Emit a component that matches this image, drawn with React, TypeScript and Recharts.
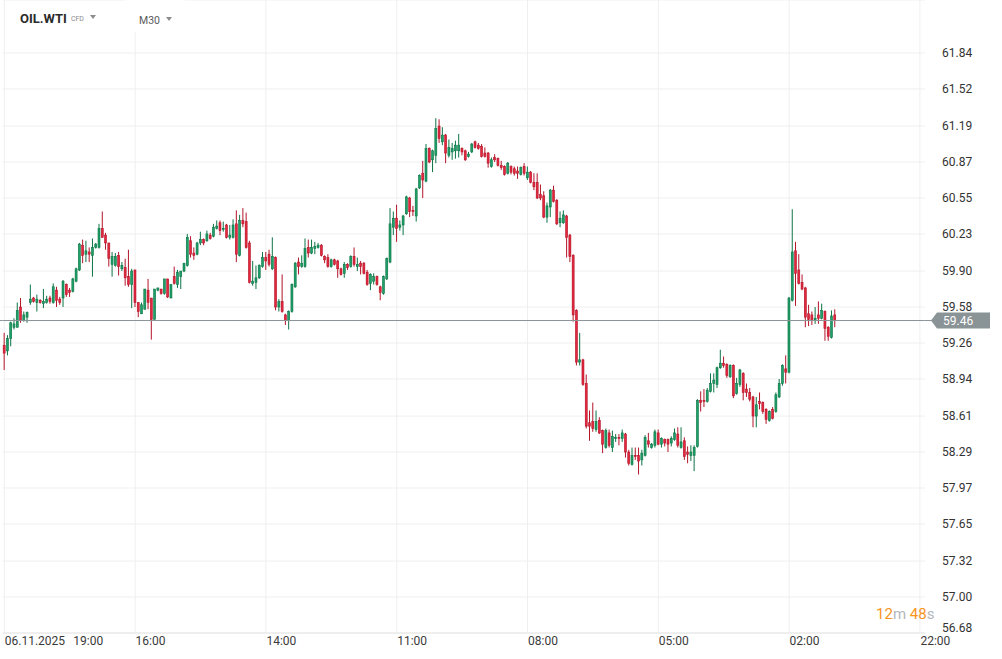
import { BarChart, Bar, XAxis, YAxis, CartesianGrid, ReferenceLine } from "recharts";

// M30 candles, oldest on the left
const opens = [
  59.24, 59.19, 59.30, 59.40, 59.40, 59.58, 59.46, 59.49, 59.62, 59.66,
  59.62, 59.64, 59.61, 59.62, 59.66, 59.62, 59.73, 59.65, 59.66, 59.78,
  59.73, 59.72, 59.81, 59.91, 60.13, 60.05, 60.07, 60.04, 60.11, 60.11,
  60.28, 60.22, 60.15, 59.96, 59.95, 60.04, 59.92, 59.93, 59.85, 59.78,
  59.91, 59.62, 59.52, 59.56, 59.73, 59.66, 59.47, 59.73, 59.74, 59.70,
  59.83, 59.66, 59.85, 59.78, 59.85, 59.90, 59.95, 60.17, 60.06, 60.05,
  60.15, 60.18, 60.17, 60.22, 60.21, 60.28, 60.33, 60.27, 60.31, 60.20,
  60.20, 60.32, 60.04, 60.35, 60.34, 60.15, 59.79, 59.80, 59.84, 59.94,
  60.02, 60.05, 59.92, 60.02, 59.58, 59.63, 59.51, 59.46, 59.54, 59.76,
  59.98, 59.94, 59.94, 60.11, 60.06, 60.10, 60.11, 60.13, 60.03, 60.02,
  59.94, 60.00, 59.99, 59.92, 59.88, 59.96, 59.94, 60.03, 59.94, 59.97,
  59.97, 59.89, 59.79, 59.81, 59.85, 59.76, 59.70, 59.83, 59.98, 60.29,
  60.37, 60.29, 60.31, 60.41, 60.55, 60.44, 60.39, 60.64, 60.77, 60.70,
  60.99, 60.89, 60.93, 61.19, 61.05, 61.11, 60.93, 60.96, 60.97, 60.97,
  60.99, 60.97, 60.92, 60.96, 61.05, 61.02, 61.01, 60.95, 60.95, 60.83,
  60.91, 60.90, 60.84, 60.83, 60.77, 60.83, 60.81, 60.79, 60.76, 60.83,
  60.73, 60.78, 60.69, 60.69, 60.58, 60.57, 60.38, 60.47, 60.62, 60.53,
  60.33, 60.33, 60.39, 60.22, 60.04, 59.55, 59.09, 59.11, 58.90, 58.55,
  58.56, 58.49, 58.57, 58.48, 58.33, 58.46, 58.33, 58.41, 58.42, 58.41,
  58.45, 58.29, 58.18, 58.26, 58.26, 58.22, 58.26, 58.39, 58.33, 58.35,
  58.46, 58.36, 58.40, 58.40, 58.37, 58.40, 58.45, 58.33, 58.39, 58.29,
  58.26, 58.26, 58.34, 58.75, 58.75, 58.74, 58.83, 58.90, 58.89, 59.04,
  59.08, 59.07, 58.96, 59.06, 58.81, 58.89, 58.99, 58.85, 58.82, 58.78,
  58.61, 58.74, 58.73, 58.67, 58.57, 58.67, 58.65, 58.78, 58.90, 59.03,
  59.00, 59.64, 60.08, 59.91, 59.80, 59.75, 59.52, 59.51, 59.46, 59.51,
  59.48, 59.54, 59.40, 59.31, 59.51,
];

const highs = [
  59.35, 59.33, 59.45, 59.48, 59.62, 59.66, 59.54, 59.54, 59.78, 59.67,
  59.69, 59.65, 59.74, 59.68, 59.68, 59.79, 59.76, 59.67, 59.82, 59.79,
  59.75, 59.84, 59.93, 60.15, 60.18, 60.17, 60.11, 60.19, 60.15, 60.32,
  60.43, 60.24, 60.15, 60.07, 60.06, 60.07, 59.98, 60.01, 60.09, 59.92,
  59.91, 59.62, 59.62, 59.74, 59.83, 59.66, 59.74, 59.75, 59.74, 59.83,
  59.83, 59.78, 59.94, 59.91, 59.90, 59.97, 60.23, 60.21, 60.11, 60.16,
  60.25, 60.19, 60.26, 60.24, 60.32, 60.35, 60.35, 60.34, 60.32, 60.31,
  60.36, 60.44, 60.40, 60.46, 60.42, 60.17, 59.99, 59.95, 59.96, 60.07,
  60.07, 60.09, 60.20, 60.03, 59.65, 59.87, 59.52, 59.55, 59.79, 59.98,
  60.02, 60.04, 60.19, 60.18, 60.18, 60.16, 60.15, 60.14, 60.04, 60.05,
  60.01, 60.01, 60.00, 59.93, 59.98, 59.97, 60.04, 60.11, 60.02, 59.99,
  59.98, 59.91, 59.88, 59.88, 59.86, 59.77, 59.86, 60.02, 60.46, 60.43,
  60.49, 60.35, 60.40, 60.57, 60.56, 60.48, 60.64, 60.76, 60.88, 61.03,
  61.00, 60.98, 61.26, 61.25, 61.18, 61.12, 61.07, 61.04, 61.06, 61.12,
  61.00, 60.98, 60.96, 61.04, 61.06, 61.04, 61.03, 61.00, 60.96, 60.91,
  60.94, 60.91, 60.88, 60.84, 60.87, 60.84, 60.83, 60.83, 60.83, 60.86,
  60.83, 60.79, 60.77, 60.77, 60.67, 60.61, 60.51, 60.63, 60.66, 60.54,
  60.43, 60.44, 60.40, 60.23, 60.05, 59.56, 59.35, 59.12, 58.98, 58.66,
  58.73, 58.66, 58.60, 58.49, 58.50, 58.49, 58.48, 58.45, 58.45, 58.49,
  58.46, 58.31, 58.33, 58.33, 58.33, 58.31, 58.44, 58.46, 58.37, 58.49,
  58.49, 58.42, 58.41, 58.41, 58.43, 58.50, 58.51, 58.51, 58.42, 58.34,
  58.35, 58.35, 58.76, 58.83, 58.85, 58.86, 58.99, 58.99, 59.05, 59.20,
  59.14, 59.08, 59.07, 59.07, 58.95, 59.03, 59.00, 58.90, 58.86, 58.79,
  58.78, 58.82, 58.74, 58.68, 58.66, 58.69, 58.82, 58.94, 59.07, 59.15,
  59.67, 60.45, 60.16, 60.05, 59.87, 59.76, 59.60, 59.54, 59.58, 59.63,
  59.61, 59.55, 59.41, 59.55, 59.56,
];

const lows = [
  59.02, 59.15, 59.23, 59.38, 59.40, 59.44, 59.45, 59.44, 59.60, 59.62,
  59.54, 59.61, 59.57, 59.61, 59.61, 59.61, 59.58, 59.60, 59.58, 59.67,
  59.67, 59.71, 59.80, 59.90, 59.97, 59.98, 59.98, 59.85, 60.10, 60.10,
  60.20, 60.09, 59.94, 59.85, 59.94, 59.86, 59.90, 59.77, 59.76, 59.57,
  59.58, 59.49, 59.52, 59.56, 59.56, 59.29, 59.47, 59.72, 59.69, 59.69,
  59.66, 59.66, 59.78, 59.75, 59.74, 59.89, 59.94, 60.02, 60.00, 60.04,
  60.13, 60.13, 60.16, 60.18, 60.20, 60.27, 60.22, 60.25, 60.19, 60.18,
  60.19, 59.98, 60.03, 60.29, 60.10, 59.79, 59.77, 59.74, 59.83, 59.93,
  59.91, 59.94, 59.91, 59.55, 59.54, 59.53, 59.42, 59.38, 59.53, 59.75,
  59.87, 59.93, 59.93, 60.02, 60.05, 60.05, 60.10, 60.03, 59.97, 59.93,
  59.93, 59.95, 59.84, 59.86, 59.84, 59.91, 59.93, 59.94, 59.90, 59.87,
  59.87, 59.77, 59.73, 59.78, 59.77, 59.64, 59.69, 59.82, 59.97, 60.22,
  60.16, 60.26, 60.22, 60.40, 60.38, 60.39, 60.34, 60.63, 60.55, 60.69,
  60.86, 60.78, 60.86, 61.04, 61.02, 60.86, 60.91, 60.89, 60.90, 60.91,
  60.93, 60.88, 60.91, 60.95, 60.99, 60.98, 60.91, 60.91, 60.82, 60.82,
  60.87, 60.83, 60.80, 60.75, 60.76, 60.76, 60.75, 60.72, 60.75, 60.75,
  60.71, 60.68, 60.62, 60.54, 60.53, 60.37, 60.33, 60.38, 60.51, 60.31,
  60.29, 60.32, 60.02, 59.98, 59.45, 59.06, 59.06, 58.88, 58.50, 58.39,
  58.47, 58.47, 58.45, 58.28, 58.32, 58.33, 58.29, 58.38, 58.35, 58.38,
  58.24, 58.17, 58.17, 58.22, 58.09, 58.17, 58.25, 58.33, 58.32, 58.33,
  58.35, 58.33, 58.34, 58.29, 58.34, 58.39, 58.33, 58.32, 58.22, 58.19,
  58.21, 58.12, 58.33, 58.65, 58.69, 58.73, 58.82, 58.82, 58.86, 59.03,
  59.04, 58.95, 58.95, 58.77, 58.80, 58.87, 58.75, 58.78, 58.74, 58.51,
  58.51, 58.67, 58.63, 58.54, 58.56, 58.58, 58.64, 58.77, 58.88, 58.90,
  58.99, 59.63, 59.59, 59.78, 59.73, 59.40, 59.41, 59.42, 59.43, 59.43,
  59.47, 59.28, 59.28, 59.30, 59.40,
];

const closes = [
  59.17, 59.30, 59.44, 59.43, 59.55, 59.46, 59.51, 59.53, 59.65, 59.63,
  59.65, 59.62, 59.63, 59.65, 59.63, 59.76, 59.64, 59.62, 59.81, 59.69,
  59.71, 59.83, 59.92, 60.14, 60.04, 60.08, 60.05, 60.11, 60.14, 60.28,
  60.20, 60.15, 60.01, 60.03, 60.03, 59.94, 59.95, 59.84, 59.78, 59.90,
  59.62, 59.54, 59.60, 59.74, 59.62, 59.47, 59.74, 59.75, 59.70, 59.83,
  59.67, 59.78, 59.79, 59.89, 59.90, 59.97, 60.20, 60.05, 60.04, 60.15,
  60.18, 60.15, 60.23, 60.19, 60.29, 60.30, 60.26, 60.28, 60.20, 60.22,
  60.31, 60.05, 60.35, 60.32, 60.11, 59.80, 59.81, 59.84, 59.95, 60.02,
  59.99, 59.96, 60.03, 59.58, 59.63, 59.54, 59.46, 59.54, 59.78, 59.97,
  59.94, 59.97, 60.10, 60.06, 60.11, 60.12, 60.13, 60.04, 60.00, 59.94,
  60.00, 59.96, 59.92, 59.87, 59.96, 59.93, 60.03, 59.96, 59.96, 59.94,
  59.88, 59.78, 59.87, 59.85, 59.78, 59.71, 59.85, 60.01, 60.32, 60.37,
  60.28, 60.31, 60.39, 60.56, 60.43, 60.43, 60.63, 60.75, 60.71, 60.99,
  60.87, 60.97, 61.17, 61.08, 61.11, 60.95, 61.00, 60.99, 61.02, 61.02,
  60.96, 60.89, 60.94, 61.03, 61.00, 60.99, 60.92, 60.92, 60.86, 60.89,
  60.89, 60.84, 60.82, 60.76, 60.86, 60.78, 60.77, 60.77, 60.82, 60.77,
  60.78, 60.69, 60.65, 60.55, 60.55, 60.38, 60.48, 60.62, 60.52, 60.32,
  60.37, 60.40, 60.20, 60.03, 59.51, 59.09, 59.11, 58.89, 58.52, 58.52,
  58.50, 58.56, 58.46, 58.36, 58.48, 58.35, 58.43, 58.42, 58.41, 58.46,
  58.29, 58.19, 58.26, 58.25, 58.21, 58.28, 58.42, 58.36, 58.36, 58.47,
  58.36, 58.41, 58.37, 58.36, 58.41, 58.46, 58.35, 58.38, 58.25, 58.27,
  58.29, 58.33, 58.75, 58.73, 58.74, 58.84, 58.90, 58.93, 59.04, 59.08,
  59.06, 58.97, 59.06, 58.79, 58.90, 59.02, 58.82, 58.82, 58.76, 58.61,
  58.71, 58.72, 58.65, 58.58, 58.65, 58.59, 58.80, 58.90, 59.06, 59.00,
  59.66, 60.07, 59.88, 59.79, 59.74, 59.49, 59.47, 59.46, 59.48, 59.48,
  59.55, 59.39, 59.32, 59.50, 59.46,
];

const priceTicks = [56.68, 57.0, 57.32, 57.65, 57.97, 58.29, 58.61, 58.94, 59.26, 59.58, 59.9, 60.23, 60.55, 60.87, 61.19, 61.52, 61.84];
const timeTickSlots = [0, 40, 80, 120, 160, 200, 240, 280];
const timeTickLabels = ["06.11.2025|19:00", "16:00", "14:00", "11:00", "08:00", "05:00", "02:00", "22:00"];
const lastPrice = 59.46;

const SLOTS = 282; // candle slots across the plot, the rest is empty space on the right
const SLOT_W = 3.27;
const PLOT_LEFT = 2.67;
const PLOT_RIGHT = PLOT_LEFT + SLOTS * SLOT_W;
const gridX = timeTickSlots.map((s) => PLOT_LEFT + (s + 0.5) * SLOT_W);

const UP_FILL = "#1fa068";
const UP_LINE = "#0d7446";
const DOWN_FILL = "#e3283e";
const DOWN_LINE = "#b3152a";

const data = Array.from({ length: SLOTS }, (_, i) => {
  if (i >= opens.length) return { i, range: null };
  const o = opens[i], h = highs[i], l = lows[i], c = closes[i];
  return { i, open: o, close: c, range: [Math.min(l, o, c), Math.max(h, o, c)] };
});

const Candle = (props: any) => {
  const { x, y, width, height, payload } = props;
  if (!payload || payload.open == null || !payload.range) return null;
  const [lo, hi] = payload.range;
  const top = Math.min(y, y + height);
  const h = Math.abs(height);
  const k = hi > lo ? h / (hi - lo) : 0;
  const cx = x + width / 2;
  const up = payload.close >= payload.open;
  const bTop = top + (hi - Math.max(payload.open, payload.close)) * k;
  const bBot = top + (hi - Math.min(payload.open, payload.close)) * k;
  return (
    <g>
      <line x1={cx} x2={cx} y1={top} y2={top + h} stroke={up ? UP_LINE : DOWN_LINE} strokeWidth={1} />
      <rect
        x={cx - 1.0}
        y={bTop}
        width={2.0}
        height={Math.max(bBot - bTop, 0.8)}
        fill={up ? UP_FILL : DOWN_FILL}
        stroke={up ? UP_LINE : DOWN_LINE}
        strokeWidth={0.6}
      />
    </g>
  );
};

const XTick = ({ x, payload }: any) => {
  const idx = timeTickSlots.indexOf(payload.value);
  const label = idx >= 0 ? timeTickLabels[idx] : "";
  const parts = label.split("|");
  return (
    <text y={645} fontFamily="Roboto" fontSize={12} fill="#3a3a3a" textAnchor="start">
      <tspan x={x + 0.5}>{parts[0]}</tspan>
      {parts[1] ? <tspan x={x + 69}>{parts[1]}</tspan> : null}
    </text>
  );
};

const YTick = ({ y, payload }: any) => {
  const yy = Math.min(y, 628);
  return (
    <text x={942} y={yy + 4.3} fontFamily="Roboto" fontSize={12} fill="#333" textAnchor="start">
      {Number(payload.value).toFixed(2)}
    </text>
  );
};

const PriceTag = ({ viewBox }: any) => {
  if (!viewBox) return null;
  const y = viewBox.y;
  return (
    <g>
      <line x1={0} x2={PLOT_LEFT} y1={y} y2={y} stroke="#8c9497" strokeWidth={1} />
      <line x1={PLOT_RIGHT} x2={932} y1={y} y2={y} stroke="#8c9497" strokeWidth={1} />
      <polygon points={`931,${y} 937,${y - 8} 990,${y - 8} 990,${y + 8} 937,${y + 8}`} fill="#8a9396" />
      <text x={943} y={y + 4.3} fontFamily="Roboto" fontSize={12} fill="#ffffff">
        {lastPrice.toFixed(2)}
      </text>
    </g>
  );
};

const Caret = ({ left, top }: { left: number; top: number }) => (
  <div
    style={{
      position: "absolute", left, top, width: 0, height: 0,
      borderLeft: "3.5px solid transparent", borderRight: "3.5px solid transparent", borderTop: "4px solid #8c8c8c",
    }}
  />
);

export default function App() {
  return (
    <div style={{ position: "absolute", left: 0, top: 0, width: 1002, height: 659, background: "#fff", overflow: "hidden" }}>
      <BarChart
        width={1002}
        height={659}
        data={data}
        margin={{ top: 0, right: 0, bottom: 0, left: PLOT_LEFT }}
        barCategoryGap={0}
        barGap={0}
      >
        <CartesianGrid stroke="#efefef" strokeWidth={1} verticalPoints={gridX} />
        <XAxis
          dataKey="i"
          type="category"
          ticks={timeTickSlots}
          interval={0}
          height={26}
          tickLine={false}
          axisLine={{ stroke: "#e6e6e6" }}
          tick={<XTick />}
        />
        <YAxis
          orientation="right"
          type="number"
          domain={[56.68, 62.3115]}
          allowDataOverflow
          ticks={priceTicks}
          interval={0}
          width={1002 - PLOT_RIGHT}
          axisLine={false}
          tickLine={false}
          tick={<YTick />}
        />
        <ReferenceLine y={lastPrice} stroke="#8c9497" strokeWidth={1} label={<PriceTag />} />
        <Bar dataKey="range" shape={<Candle />} isAnimationActive={false} />
      </BarChart>

      <div style={{ position: "absolute", left: 125, top: 0, width: 60, height: 32, background: "#fff" }} />
      <div style={{ position: "absolute", left: 20, top: 12, fontFamily: "Roboto", fontWeight: 700, fontSize: 13, lineHeight: "13px", color: "#2b2b2b", whiteSpace: "nowrap" }}>
        OIL.WTI
        <span style={{ fontSize: 7, fontWeight: 400, color: "#8a8a8a", marginLeft: 4, position: "relative", top: -2 }}>CFD</span>
      </div>
      <Caret left={90} top={15} />
      <div style={{ position: "absolute", left: 139, top: 15, fontFamily: "Roboto", fontSize: 10.5, lineHeight: "11px", color: "#5a5a5a" }}>M30</div>
      <Caret left={166} top={16.5} />

      <div style={{ position: "absolute", left: 876, top: 607.4, fontFamily: "Roboto", fontSize: 15, lineHeight: "15px", whiteSpace: "nowrap" }}>
        <span style={{ color: "#f7941d" }}>12</span>
        <span style={{ color: "#b3b7bb" }}>m </span>
        <span style={{ color: "#f7941d" }}>48</span>
        <span style={{ color: "#b3b7bb" }}>s</span>
      </div>
    </div>
  );
}
